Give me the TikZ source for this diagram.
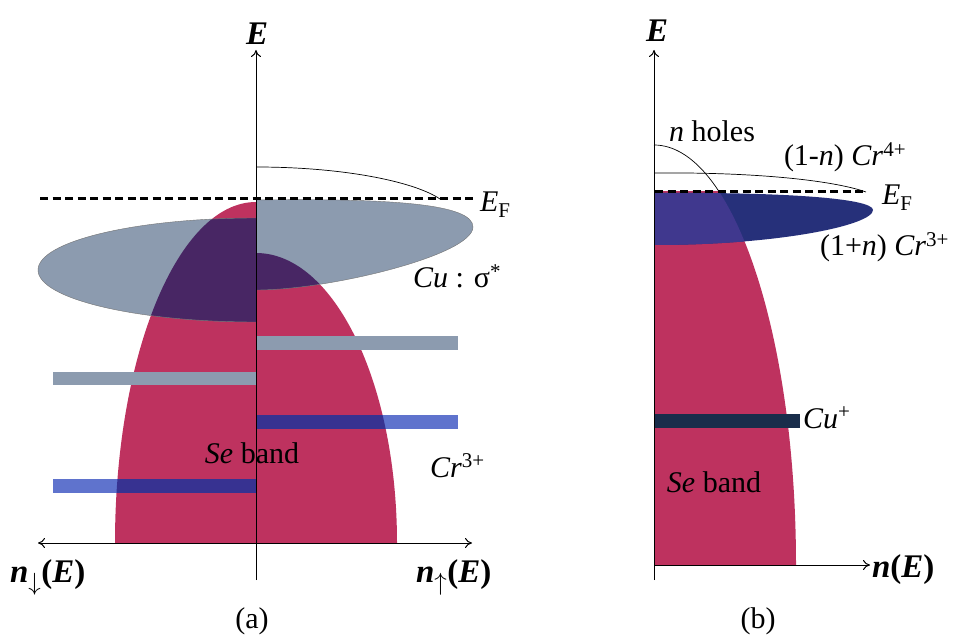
\documentclass[tikz,border=0pt]{standalone}
\usepackage{fontspec}
\setmainfont{Liberation Serif}
\usetikzlibrary{arrows.meta}
\definecolor{bandpink}{RGB}{190,50,95}
\definecolor{greyblue}{RGB}{140,155,175}
\definecolor{darkpurple}{RGB}{72,38,100}
\definecolor{barblue}{RGB}{95,115,205}
\definecolor{bardark}{RGB}{55,50,145}
\definecolor{navyell}{RGB}{38,48,122}
\definecolor{overlapb}{RGB}{64,56,142}
\definecolor{cubar}{RGB}{25,45,75}
\begin{document}
\begin{tikzpicture}[x=1pt,y=-1pt,
  every node/.style={inner sep=0pt,outer sep=0pt},
  lbl/.style={font=\fontsize{30}{34}\selectfont},
  axlbl/.style={font=\fontsize{33}{38}\selectfont\bfseries},
  axarrow/.style={line width=1pt,-{To[length=7pt,width=10pt]}},
  fermi/.style={line width=3pt,dash pattern=on 8pt off 4.5pt},
  thinline/.style={line width=0.7pt},
  ellout/.style={draw=black!55,line width=0.4pt}]
\useasboundingbox (0,0) rectangle (961,644);

% ================= panel (a) =================
% Se band (spin down / spin up halves)
\fill[bandpink] (256,543) -- (115,543) .. controls (115,354.7) and (178.1,202) .. (256,202) -- cycle;
\fill[bandpink] (256,543) -- (397,543) .. controls (397,382.8) and (333.9,253) .. (256,253) -- cycle;
% Cu sigma* ellipse halves
\fill[greyblue] (256,218) .. controls (135.6,218) and (38,241.3) .. (38,270) .. controls (38,298.7) and (135.6,322) .. (256,322) -- cycle;
\fill[greyblue] (256,200) .. controls (400,198) and (473,205) .. (473,227) .. controls (473,255) and (330,290) .. (256,290) -- cycle;
\begin{scope}
  \clip (256,543) -- (115,543) .. controls (115,354.7) and (178.1,202) .. (256,202) -- cycle
        (256,543) -- (397,543) .. controls (397,382.8) and (333.9,253) .. (256,253) -- cycle;
  \fill[darkpurple] (256,218) .. controls (135.6,218) and (38,241.3) .. (38,270) .. controls (38,298.7) and (135.6,322) .. (256,322) -- cycle;
  \fill[darkpurple] (256,200) .. controls (400,198) and (473,205) .. (473,227) .. controls (473,255) and (330,290) .. (256,290) -- cycle;
\end{scope}
\path[ellout] (256,218) .. controls (135.6,218) and (38,241.3) .. (38,270) .. controls (38,298.7) and (135.6,322) .. (256,322);
\path[ellout] (256,200) .. controls (400,198) and (473,205) .. (473,227) .. controls (473,255) and (330,290) .. (256,290);
% empty upper part of the ellipse
\draw[thinline] (256,167) .. controls (345,167) and (415,182) .. (440,199);
% grey levels
\fill[greyblue] (256,336) rectangle (458,350);
\fill[greyblue] (53,372) rectangle (256,385);
% Cr3+ levels
\fill[barblue] (256,415) rectangle (458,429);
\fill[barblue] (53,479) rectangle (256,493);
\begin{scope}
  \clip (256,543) -- (115,543) .. controls (115,354.7) and (178.1,202) .. (256,202) -- cycle
        (256,543) -- (397,543) .. controls (397,382.8) and (333.9,253) .. (256,253) -- cycle;
  \fill[bardark] (256,415) rectangle (458,429);
  \fill[bardark] (53,479) rectangle (256,493);
\end{scope}
% axes
\coordinate (aBot) at (256,580);
\coordinate (aTop) at (256,50);
\coordinate (aLeft) at (38,543);
\coordinate (aRight) at (472,543);
\draw[axarrow] (aBot) -- (aTop);
\draw[line width=1pt,{To[length=7pt,width=10pt]}-{To[length=7pt,width=10pt]}] (aLeft) -- (aRight);
% Fermi level
\coordinate (aF1) at (40,199);
\coordinate (aF2) at (476,199);
\draw[fermi] (aF1) -- (aF2);
% labels
\node[axlbl,anchor=base west] (aE) at (246,45) {\textit{E}};
\node[lbl,anchor=base west] (aEF) at (480,212) {\textit{E}\textsubscript{F}};
\node[lbl,anchor=base west] (aCu) at (413,288) {\textit{Cu} : σ\textsuperscript{*}};
\node[lbl,anchor=base west] (aCr) at (430,477) {\textit{Cr}\textsuperscript{3+}};
\node[lbl,anchor=base] (aSe) at (252,463) {\textit{Se} band};
\node[axlbl,anchor=base west] (aNd) at (10,582) {\textit{n}$_{\downarrow}$(\textit{E})};
\node[axlbl,anchor=base west] (aNu) at (416,582) {\textit{n}$_{\uparrow}$(\textit{E})};
\node[lbl,anchor=base] (aCap) at (252,628) {(a)};

% ================= panel (b) =================
\begin{scope}
  \clip (600,192) rectangle (950,600);
  \fill[bandpink] (654,565) -- (796,565) .. controls (796,333) and (732.4,145) .. (654,145) -- cycle;
\end{scope}
\fill[navyell] (654,193) .. controls (780,192) and (873,198) .. (873,210) .. controls (873,225) and (780,245) .. (654,245) -- cycle;
\begin{scope}
  \clip (654,565) -- (796,565) .. controls (796,333) and (732.4,145) .. (654,145) -- cycle;
  \fill[overlapb] (654,193) .. controls (780,192) and (873,198) .. (873,210) .. controls (873,225) and (780,245) .. (654,245) -- cycle;
\end{scope}
\begin{scope}
  \clip (600,100) rectangle (950,193);
  \draw[thinline] (796,565) .. controls (796,333) and (732.4,145) .. (654,145);
\end{scope}
\draw[thinline] (654,173) .. controls (760,172) and (835,181) .. (866,192);
% Cu+ level
\fill[cubar] (654,414) rectangle (800,428);
% axes
\coordinate (bBot) at (654,580);
\coordinate (bTop) at (654,50);
\coordinate (bOrig) at (654,565);
\coordinate (bRight) at (870,565);
\draw[axarrow] (bBot) -- (bTop);
\draw[axarrow] (bOrig) -- (bRight);
% Fermi level
\coordinate (bF1) at (655,192);
\coordinate (bF2) at (866,192);
\draw[fermi] (bF1) -- (bF2);
% labels
\node[axlbl,anchor=base west] (bE) at (646,42) {\textit{E}};
\node[lbl,anchor=base] (bHoles) at (712,142) {\textit{n} holes};
\node[lbl,anchor=base west] (bCr4) at (784,166) {(1-\textit{n}) \textit{Cr}\textsuperscript{4+}};
\node[lbl,anchor=base west] (bEF) at (882,205) {\textit{E}\textsubscript{F}};
\node[lbl,anchor=base west] (bCr3) at (820,256) {(1+\textit{n}) \textit{Cr}\textsuperscript{3+}};
\node[lbl,anchor=base west] (bCu) at (803,428) {\textit{Cu}\textsuperscript{+}};
\node[lbl,anchor=base] (bSe) at (714,492) {\textit{Se} band};
\node[axlbl,anchor=base west] (bN) at (872,577) {\textit{n}(\textit{E})};
\node[lbl,anchor=base] (bCap) at (758,628) {(b)};
\end{tikzpicture}
\end{document}
